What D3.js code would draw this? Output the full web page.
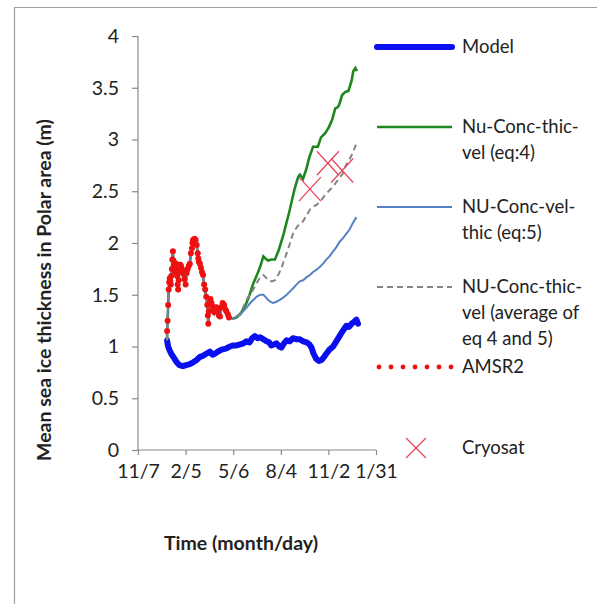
<!DOCTYPE html>
<html>
<head>
<meta charset="utf-8">
<script src="https://cdn.jsdelivr.net/npm/d3@7"></script>
<style>
  html, body { margin: 0; padding: 0; background: #fff; }
  svg { display: block; }
  text { font-family: Lato, "Open Sans", sans-serif; fill: #222; }
</style>
</head>
<body>
<svg id="chart" width="597" height="604"></svg>
<script>
// ---- axis ticks ----
const xTickDates = ["2012-11-07", "2013-02-05", "2013-05-06", "2013-08-04", "2013-11-02", "2014-01-31"];
const xTickLabels = ["11/7", "2/5", "5/6", "8/4", "11/2", "1/31"];
const yTicks = [0, 0.5, 1, 1.5, 2, 2.5, 3, 3.5, 4];
const yTickLabels = ["0", "0.5", "1", "1.5", "2", "2.5", "3", "3.5", "4"];

// ---- modelled mean thickness (m) ----
const modelSeries = [
  ["2013-01-01", 1.06], ["2013-01-03", 1.00], ["2013-01-06", 0.96], ["2013-01-10", 0.92],
  ["2013-01-14", 0.89], ["2013-01-19", 0.85], ["2013-01-24", 0.82], ["2013-01-31", 0.81],
  ["2013-02-06", 0.82], ["2013-02-13", 0.83], ["2013-02-20", 0.85], ["2013-02-26", 0.87],
  ["2013-03-04", 0.90], ["2013-03-10", 0.91], ["2013-03-16", 0.93], ["2013-03-23", 0.95],
  ["2013-03-28", 0.92], ["2013-04-01", 0.93], ["2013-04-07", 0.95], ["2013-04-14", 0.97],
  ["2013-04-22", 0.98], ["2013-04-30", 1.00], ["2013-05-06", 1.01], ["2013-05-12", 1.01],
  ["2013-05-19", 1.02], ["2013-05-25", 1.03], ["2013-05-31", 1.05], ["2013-06-06", 1.04],
  ["2013-06-11", 1.08], ["2013-06-16", 1.10], ["2013-06-21", 1.08], ["2013-06-26", 1.09],
  ["2013-07-02", 1.07], ["2013-07-08", 1.05], ["2013-07-13", 1.04], ["2013-07-17", 1.01],
  ["2013-07-22", 1.02], ["2013-07-27", 1.03], ["2013-08-01", 1.00], ["2013-08-05", 0.99],
  ["2013-08-10", 1.03], ["2013-08-15", 1.06], ["2013-08-21", 1.05], ["2013-08-27", 1.08],
  ["2013-09-03", 1.07], ["2013-09-09", 1.07], ["2013-09-15", 1.05], ["2013-09-22", 1.04],
  ["2013-09-27", 1.02], ["2013-10-01", 0.99], ["2013-10-05", 0.93], ["2013-10-10", 0.88],
  ["2013-10-15", 0.86], ["2013-10-20", 0.87], ["2013-10-25", 0.90], ["2013-10-29", 0.93],
  ["2013-11-04", 0.97], ["2013-11-11", 1.00], ["2013-11-17", 1.05], ["2013-11-23", 1.10],
  ["2013-11-29", 1.15], ["2013-12-06", 1.20], ["2013-12-11", 1.19], ["2013-12-16", 1.22],
  ["2013-12-21", 1.24], ["2013-12-25", 1.26], ["2013-12-28", 1.22]
];

// ---- AMSR2 retrievals, winter/spring ----
const amsr2Series = [
  ["2013-01-01", 1.15], ["2013-01-02", 1.25], ["2013-01-03", 1.40], ["2013-01-04", 1.55],
  ["2013-01-05", 1.62], ["2013-01-06", 1.66], ["2013-01-07", 1.63], ["2013-01-08", 1.60],
  ["2013-01-09", 1.68], ["2013-01-10", 1.75], ["2013-01-11", 1.84], ["2013-01-12", 1.92],
  ["2013-01-13", 1.83], ["2013-01-14", 1.78], ["2013-01-15", 1.74], ["2013-01-16", 1.72],
  ["2013-01-17", 1.77], ["2013-01-18", 1.80], ["2013-01-19", 1.74], ["2013-01-20", 1.68],
  ["2013-01-21", 1.60], ["2013-01-22", 1.55], ["2013-01-23", 1.64], ["2013-01-24", 1.72],
  ["2013-01-25", 1.77], ["2013-01-26", 1.79], ["2013-01-27", 1.78], ["2013-01-28", 1.76],
  ["2013-01-30", 1.74], ["2013-02-01", 1.70], ["2013-02-03", 1.65], ["2013-02-05", 1.60],
  ["2013-02-07", 1.71], ["2013-02-09", 1.75], ["2013-02-11", 1.78], ["2013-02-13", 1.80],
  ["2013-02-15", 1.90], ["2013-02-17", 1.95], ["2013-02-18", 2.00], ["2013-02-19", 2.03],
  ["2013-02-21", 2.02], ["2013-02-22", 2.04], ["2013-02-24", 2.03], ["2013-02-26", 1.98],
  ["2013-02-28", 1.90], ["2013-03-01", 1.85], ["2013-03-02", 1.82], ["2013-03-04", 1.80],
  ["2013-03-06", 1.76], ["2013-03-08", 1.72], ["2013-03-10", 1.69], ["2013-03-12", 1.60],
  ["2013-03-14", 1.55], ["2013-03-16", 1.48], ["2013-03-18", 1.40], ["2013-03-19", 1.30],
  ["2013-03-20", 1.22], ["2013-03-21", 1.34], ["2013-03-22", 1.42], ["2013-03-24", 1.46],
  ["2013-03-26", 1.42], ["2013-03-28", 1.39], ["2013-03-30", 1.35], ["2013-03-31", 1.33],
  ["2013-04-02", 1.36], ["2013-04-04", 1.38], ["2013-04-07", 1.35], ["2013-04-09", 1.30],
  ["2013-04-11", 1.29], ["2013-04-13", 1.38], ["2013-04-16", 1.42], ["2013-04-19", 1.40],
  ["2013-04-21", 1.36], ["2013-04-23", 1.34], ["2013-04-26", 1.31], ["2013-04-28", 1.28]
];

// ---- NU estimates after the AMSR2 period ----
const eq4Series = [
  ["2013-04-30", 1.28], ["2013-05-06", 1.27], ["2013-05-12", 1.28], ["2013-05-19", 1.31],
  ["2013-05-25", 1.36], ["2013-05-31", 1.42], ["2013-06-06", 1.50], ["2013-06-13", 1.61],
  ["2013-06-19", 1.68], ["2013-06-26", 1.77], ["2013-07-02", 1.87], ["2013-07-06", 1.85],
  ["2013-07-11", 1.83], ["2013-07-17", 1.84], ["2013-07-24", 1.84], ["2013-07-31", 1.93],
  ["2013-08-06", 2.03], ["2013-08-10", 2.10], ["2013-08-15", 2.20], ["2013-08-20", 2.30],
  ["2013-08-25", 2.41], ["2013-08-30", 2.52], ["2013-09-03", 2.59], ["2013-09-06", 2.64],
  ["2013-09-09", 2.66], ["2013-09-15", 2.62], ["2013-09-21", 2.71], ["2013-09-27", 2.83],
  ["2013-10-04", 2.93], ["2013-10-13", 2.93], ["2013-10-19", 3.02], ["2013-10-27", 3.06],
  ["2013-11-03", 3.12], ["2013-11-09", 3.19], ["2013-11-15", 3.30], ["2013-11-19", 3.31],
  ["2013-11-22", 3.33], ["2013-11-28", 3.43], ["2013-12-04", 3.46], ["2013-12-10", 3.47],
  ["2013-12-16", 3.57], ["2013-12-19", 3.66], ["2013-12-23", 3.69], ["2013-12-26", 3.66]
];
const eq5Series = [
  ["2013-04-30", 1.28], ["2013-05-06", 1.27], ["2013-05-12", 1.29], ["2013-05-19", 1.31],
  ["2013-05-25", 1.34], ["2013-06-01", 1.38], ["2013-06-07", 1.42], ["2013-06-13", 1.45],
  ["2013-06-19", 1.48], ["2013-06-26", 1.50], ["2013-07-02", 1.50], ["2013-07-06", 1.48],
  ["2013-07-11", 1.45], ["2013-07-16", 1.43], ["2013-07-20", 1.42], ["2013-07-26", 1.43],
  ["2013-08-02", 1.45], ["2013-08-08", 1.47], ["2013-08-15", 1.50], ["2013-08-21", 1.53],
  ["2013-08-27", 1.56], ["2013-09-03", 1.60], ["2013-09-09", 1.63], ["2013-09-15", 1.64],
  ["2013-09-22", 1.67], ["2013-09-28", 1.69], ["2013-10-04", 1.72], ["2013-10-10", 1.74],
  ["2013-10-17", 1.77], ["2013-10-23", 1.80], ["2013-10-29", 1.84], ["2013-11-04", 1.87],
  ["2013-11-11", 1.92], ["2013-11-17", 1.96], ["2013-11-23", 2.01], ["2013-11-30", 2.05],
  ["2013-12-06", 2.09], ["2013-12-12", 2.13], ["2013-12-18", 2.19], ["2013-12-25", 2.25]
];
const avgSeries = [
  ["2013-04-30", 1.28], ["2013-05-06", 1.27], ["2013-05-12", 1.29], ["2013-05-19", 1.32],
  ["2013-05-25", 1.38], ["2013-05-31", 1.45], ["2013-06-06", 1.50], ["2013-06-13", 1.55],
  ["2013-06-19", 1.61], ["2013-06-26", 1.67], ["2013-07-02", 1.69], ["2013-07-08", 1.66],
  ["2013-07-14", 1.63], ["2013-07-19", 1.63], ["2013-07-24", 1.64], ["2013-07-31", 1.70],
  ["2013-08-06", 1.77], ["2013-08-10", 1.83], ["2013-08-15", 1.90], ["2013-08-21", 1.99],
  ["2013-08-27", 2.09], ["2013-09-03", 2.15], ["2013-09-09", 2.19], ["2013-09-15", 2.21],
  ["2013-09-22", 2.27], ["2013-09-29", 2.33], ["2013-10-04", 2.35], ["2013-10-11", 2.37],
  ["2013-10-19", 2.41], ["2013-10-26", 2.46], ["2013-11-04", 2.51], ["2013-11-10", 2.54],
  ["2013-11-16", 2.58], ["2013-11-23", 2.63], ["2013-11-29", 2.67], ["2013-12-05", 2.75],
  ["2013-12-12", 2.81], ["2013-12-18", 2.87], ["2013-12-24", 2.95]
];

// ---- CryoSat-2 estimates ----
const cryosatSeries = [["2013-09-28", 2.52], ["2013-11-01", 2.77], ["2013-11-28", 2.70]];

// ---- legend ----
const legendItems = [
  { key: "model",   lines: ["Model"] },
  { key: "eq4",     lines: ["Nu-Conc-thic-", "vel (eq:4)"] },
  { key: "eq5",     lines: ["NU-Conc-vel-", "thic (eq:5)"] },
  { key: "avg",     lines: ["NU-Conc-thic-", "vel (average of", "eq 4 and 5)"] },
  { key: "amsr2",   lines: ["AMSR2"] },
  { key: "cryosat", lines: ["Cryosat"] }
];
const legendRows = [47, 127, 207, 287, 367, 448];

const colors = {
  model: "#0a0ff0", eq4: "#1f871f", eq5: "#5581c4", avg: "#858585",
  amsr2: "#ee1111", cryosat: "#e8465c", axis: "#8a8a8a", frame: "#a0a0a0"
};

const parse = d3.utcParse("%Y-%m-%d");
const toPts = s => s.map(([d, v]) => ({ date: parse(d), value: v }));

const svg = d3.select("#chart");
svg.append("rect").attr("width", 597).attr("height", 604).attr("fill", "#fff");

// outer chart-area frame (top and left edges visible)
svg.append("path")
  .attr("d", "M14.5,604 V7.5 H597")
  .attr("fill", "none").attr("stroke", colors.frame).attr("stroke-width", 1.2);

const x = d3.scaleUtc()
  .domain([parse(xTickDates[0]), parse(xTickDates[xTickDates.length - 1])])
  .range([138, 376]);
const y = d3.scaleLinear().domain([0, 4]).range([450, 36]);

// axes
const xAxis = d3.axisBottom(x)
  .tickValues(xTickDates.map(parse))
  .tickFormat((d, i) => xTickLabels[i])
  .tickSize(5).tickPadding(9);
const yAxis = d3.axisLeft(y)
  .tickValues(yTicks)
  .tickFormat((d, i) => yTickLabels[i])
  .tickSize(6).tickPadding(13);

const gx = svg.append("g").attr("transform", "translate(0,450)").call(xAxis);
const gy = svg.append("g").attr("transform", "translate(138,0)").call(yAxis);
[gx, gy].forEach(g => {
  g.select(".domain").attr("stroke", colors.axis).attr("stroke-width", 1.2);
  g.selectAll(".tick line").attr("stroke", colors.axis).attr("stroke-width", 1.2);
  g.selectAll(".tick text").attr("font-family", "Lato, sans-serif").attr("font-size", 19.5).attr("fill", "#222");
});
gy.select(".domain").attr("d", "M0,450V36");
gx.select(".domain").attr("d", "M138,0H376");

// axis titles
svg.append("text")
  .attr("transform", "translate(44,290) rotate(-90)")
  .attr("text-anchor", "middle").attr("dy", "0.35em")
  .attr("font-weight", "bold").attr("font-size", 19.5)
  .text("Mean sea ice thickness in Polar area (m)");
svg.append("text")
  .attr("x", 241).attr("y", 543).attr("dy", "0.35em")
  .attr("text-anchor", "middle").attr("font-weight", "bold").attr("font-size", 19.5)
  .text("Time (month/day)");

const line = d3.line().x(d => x(d.date)).y(d => y(d.value));

// series drawn in legend order, later ones on top
svg.append("path").datum(toPts(modelSeries)).attr("d", line)
  .attr("fill", "none").attr("stroke", colors.model).attr("stroke-width", 6)
  .attr("stroke-linejoin", "round").attr("stroke-linecap", "round");

// NU estimates share the AMSR2 values through spring, starting from the model's first value
const springStart = modelSeries.slice(0, 1);
const nu = s => toPts([...springStart, ...amsr2Series, ...s]);

svg.append("path").datum(nu(eq4Series)).attr("d", line)
  .attr("fill", "none").attr("stroke", colors.eq4).attr("stroke-width", 2.6);
svg.append("path").datum(nu(eq5Series)).attr("d", line)
  .attr("fill", "none").attr("stroke", colors.eq5).attr("stroke-width", 2);
svg.append("path").datum(nu(avgSeries)).attr("d", line)
  .attr("fill", "none").attr("stroke", colors.avg).attr("stroke-width", 2)
  .attr("stroke-dasharray", "6,4");

svg.append("g").selectAll("circle").data(toPts(amsr2Series)).join("circle")
  .attr("cx", d => x(d.date)).attr("cy", d => y(d.value)).attr("r", 3)
  .attr("fill", colors.amsr2);

const cross = (g, cx, cy, hw, hh) => g.append("path")
  .attr("d", `M${cx - hw},${cy - hh}L${cx + hw},${cy + hh}M${cx - hw},${cy + hh}L${cx + hw},${cy - hh}`)
  .attr("fill", "none").attr("stroke", colors.cryosat).attr("stroke-width", 1.3);
const gc = svg.append("g");
toPts(cryosatSeries).forEach(d => cross(gc, x(d.date), y(d.value), 11, 12));

// legend
const lg = svg.append("g");
const lx0 = 377, lx1 = 452, tx = 462, lineGap = 26;
legendItems.forEach((item, i) => {
  const cy = legendRows[i];
  if (item.key === "model") {
    lg.append("line").attr("x1", lx0).attr("x2", lx1).attr("y1", cy).attr("y2", cy)
      .attr("stroke", colors.model).attr("stroke-width", 6).attr("stroke-linecap", "round");
  } else if (item.key === "eq4" || item.key === "eq5" || item.key === "avg") {
    lg.append("line").attr("x1", lx0).attr("x2", lx1).attr("y1", cy).attr("y2", cy)
      .attr("stroke", colors[item.key]).attr("stroke-width", item.key === "eq4" ? 2.6 : 2)
      .attr("stroke-dasharray", item.key === "avg" ? "6,4" : null);
  } else if (item.key === "amsr2") {
    d3.range(7).forEach(k => lg.append("circle")
      .attr("cx", lx0 + 2 + k * 12).attr("cy", cy).attr("r", 2.4).attr("fill", colors.amsr2));
  } else if (item.key === "cryosat") {
    cross(lg, 416, cy, 10, 10);
  }
  item.lines.forEach((t, j) => lg.append("text")
    .attr("x", tx).attr("y", cy + j * lineGap).attr("dy", "0.35em")
    .attr("font-size", 18.5).text(t));
});
</script>
</body>
</html>
